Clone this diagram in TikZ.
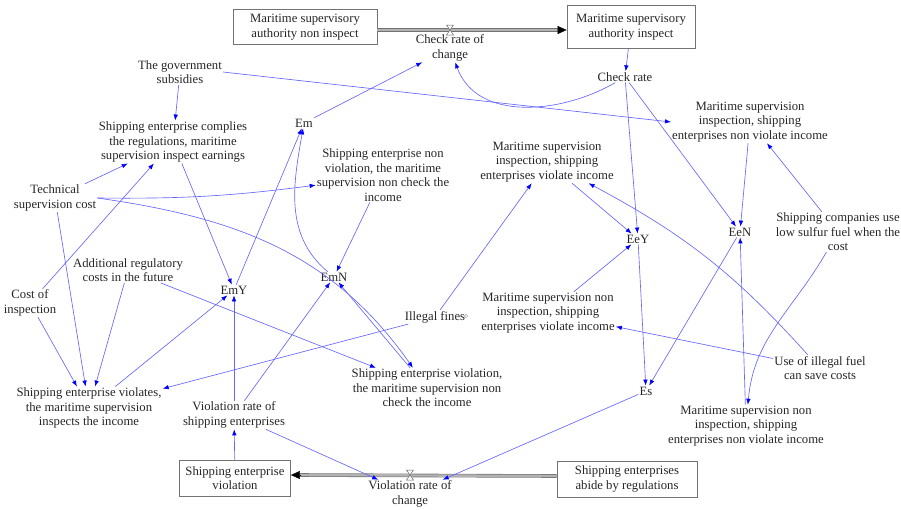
\documentclass[tikz,border=0pt]{standalone}
\usepackage{fontspec}
\setmainfont{Liberation Serif}
\usetikzlibrary{arrows.meta}

\begin{document}
\begin{tikzpicture}[x=1pt,y=-1pt,
    every node/.style={align=center,inner sep=1pt,text=black!85,
      font=\fontsize{12.7}{14.5}\selectfont},
    link/.style={draw=blue!60,line width=0.65pt,-{Latex[length=6pt,width=4.5pt,color=blue]}},
    level/.style={draw=black!55,line width=0.8pt,inner sep=2pt},
    pipe/.style={draw=black!55,double=black!30,double distance=2.4pt,line width=0.6pt}]
    \useasboundingbox (0,0) rectangle (901,509);

    % levels and rates
    \node[level,minimum width=144pt,minimum height=35pt] (sni) at (305,27) {Maritime supervisory\\authority non inspect};
    \node[level,minimum width=128pt,minimum height=43pt] (si) at (631,27) {Maritime supervisory\\authority inspect};
    \node[level,minimum width=111pt,minimum height=36pt] (sev) at (235,478) {Shipping enterprise\\violation};
    \node[level,minimum width=140pt,minimum height=36pt] (sabide) at (627,479) {Shipping enterprises\\abide by regulations};
    \coordinate (v1) at (450,30);
    \coordinate (v2) at (410,475);
    \node (chkrate) at (450,48) {Check rate of\\change};
    \node (vchange) at (410,494) {Violation rate of\\change};

    % auxiliaries
    \node (sub) at (180,72) {The government\\subsidies};
    \node (chk) at (625,77) {Check rate};
    \node (mnvi) at (750,122) {Maritime supervision\\inspection, shipping\\enterprises non violate income};
    \node (comp) at (173,142) {Shipping enterprise complies\\the regulations, maritime\\supervision inspect earnings};
    \node (em) at (304,123) {Em};
    \node (nvnc) at (383,175) {Shipping enterprise non\\violation, the maritime\\supervision non check the\\income};
    \node (mvi) at (547,162) {Maritime supervision\\inspection, shipping\\enterprises violate income};
    \node (tech) at (55,198) {Technical\\supervision cost};
    \node (eey) at (638,239) {EeY};
    \node (een) at (740,232) {EeN};
    \node (lowsul) at (838,232) {Shipping companies use\\low sulfur fuel when the\\cost};
    \node (addc) at (128,270) {Additional regulatory\\costs in the future};
    \node (emy) at (234,290) {EmY};
    \node (emn) at (334,277) {EmN};
    \node (cost) at (30,303) {Cost of\\inspection};
    \node (fines) at (435,317) {Illegal fines};
    \node (mnivi) at (548,313) {Maritime supervision non\\inspection, shipping\\enterprises violate income};
    \node (illfuel) at (820,368) {Use of illegal fuel\\can save costs};
    \node (vnc) at (427,388) {Shipping enterprise violation,\\the maritime supervision non\\check the income};
    \node (es) at (646,391) {Es};
    \node (vins) at (89,408) {Shipping enterprise violates,\\the maritime supervision\\inspects the income};
    \node (vrate) at (234,415) {Violation rate of\\shipping enterprises};
    \node (mninvi) at (746,426) {Maritime supervision non\\inspection, shipping\\enterprises non violate income};
    \draw[black!45] (466,316) circle (1.6pt);

    % flows
    \draw[pipe] ([yshift=-3pt]sni.east) -- ([xshift=-8pt,yshift=-3pt]si.west);
    \draw[-{Triangle[length=9pt,width=8pt]},black] ([xshift=-9pt,yshift=-3pt]si.west) -- ([yshift=-3pt]si.west);
    \draw[pipe] ([yshift=3pt]sabide.west) -- ([xshift=8pt,yshift=3pt]sev.east);
    \draw[-{Triangle[length=9pt,width=8pt]},black] ([xshift=9pt,yshift=3pt]sev.east) -- ([yshift=3pt]sev.east);
    \draw[black!60,fill=white,line width=0.5pt] ([shift={(-3.5,-5)}]v1) -- ([shift={(3.5,-5)}]v1)
      -- ([shift={(-3.5,5)}]v1) -- ([shift={(3.5,5)}]v1) -- cycle;
    \draw[black!60,fill=white,line width=0.5pt] ([shift={(-3.5,-5)}]v2) -- ([shift={(3.5,-5)}]v2)
      -- ([shift={(-3.5,5)}]v2) -- ([shift={(3.5,5)}]v2) -- cycle;

    % links
    \draw[link] (sub) -- (comp);
    \draw[link] (sub.east) -- (mnvi.west);
    \draw[link] (em) -- (chkrate);
    \draw[link] (chk) to[out=-150,in=-70] (chkrate);
    \draw[link] (si) -- (chk);
    \draw[link] (chk) -- (eey);
    \draw[link] (chk) -- (een);
    \draw[link] (mnvi) -- (een);
    \draw[link] (lowsul) -- (mnvi);
    \draw[link] (mvi) -- (eey);
    \draw[link] (mnivi) -- (eey);
    \draw[link] (eey) -- (es);
    \draw[link] (een) -- (es);
    \draw[link] (illfuel) to[bend right=10] (mvi);
    \draw[link] (illfuel) -- (mnivi);
    \draw[link] (lowsul) to[out=-120,in=85] (mninvi);
    \draw[link] (mninvi) -- (een);
    \draw[link] (emy) -- (em);
    \draw[link] (emn) to[out=140,in=-100] (em);
    \draw[link] (comp) -- (emy);
    \draw[link] (tech) -- (comp);
    \draw[link] (cost) -- (comp);
    \draw[link] (tech.east) to[bend right=4] (nvnc);
    \draw[link] (tech.east) to[out=-8,in=125] (vnc);
    \draw[link] (nvnc) -- (emn);
    \draw[link] (addc) -- (vins);
    \draw[link] (addc) -- (vnc);
    \draw[link] (tech) -- (vins);
    \draw[link] (cost) -- (vins);
    \draw[link] (vins) -- (emy);
    \draw[link] (vrate) -- (emy);
    \draw[link] (vrate) -- (emn);
    \draw[link] (vnc) -- (emn);
    \draw[link] (fines) -- (vins);
    \draw[link] (fines) -- (mvi);
    \draw[link] (sev) -- (vrate);
    \draw[link] (vrate) -- (vchange);
    \draw[link] (es) -- (vchange);
\end{tikzpicture}
\end{document}
